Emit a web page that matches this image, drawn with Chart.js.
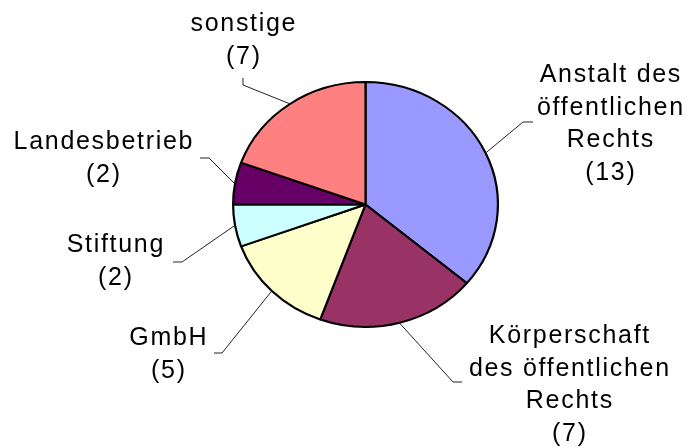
<!DOCTYPE html>
<html>
<head>
<meta charset="utf-8">
<script src="https://cdn.jsdelivr.net/npm/chart.js@4"></script>
<style>
  html, body { margin: 0; background: #fff; }
</style>
</head>
<body>
<canvas id="chart" width="687" height="448"></canvas>
<script>
const categories = [
  ["Anstalt des", "öffentlichen", "Rechts"],
  ["Körperschaft", "des öffentlichen", "Rechts"],
  ["GmbH"],
  ["Stiftung"],
  ["Landesbetrieb"],
  ["sonstige"],
];
const counts = [13, 7, 5, 2, 2, 7];
const sliceColors = ["#9999FF", "#993366", "#FFFFCC", "#CCFFFF", "#660066", "#FF8080"];

// where each label sits: text centre x, first baseline y, leader elbow and end
const labelLayout = [
  { x: 610, y: 82, elbow: [523, 122], end: [533, 122] },
  { x: 569, y: 343, elbow: [453, 382], end: [462, 382] },
  { x: 168, y: 345, elbow: [222, 353], end: [214, 353] },
  { x: 115, y: 252, elbow: [182, 262], end: [173, 262] },
  { x: 103, y: 149, elbow: [209, 158], end: [200, 158] },
  { x: 243, y: 31, elbow: [243, 85], end: [243, 78] },
];

const squash = 0.9245; // the original pie is a bit flatter than a circle
const lineHeight = 32.5;

const squashPlugin = {
  id: "squash",
  beforeDatasetsDraw(chart) {
    const arc = chart.getDatasetMeta(0).data[0];
    const ctx = chart.ctx;
    ctx.save();
    ctx.translate(arc.x, arc.y);
    ctx.scale(1, squash);
    ctx.translate(-arc.x, -arc.y);
  },
  afterDatasetsDraw(chart) {
    chart.ctx.restore();
  },
};

const labelPlugin = {
  id: "labels",
  afterDraw(chart) {
    const ctx = chart.ctx;
    const arcs = chart.getDatasetMeta(0).data;
    ctx.save();
    arcs.forEach((arc, i) => {
      const layout = labelLayout[i];
      const mid = (arc.startAngle + arc.endAngle) / 2;
      const r = arc.outerRadius + 1;
      const px = arc.x + Math.cos(mid) * r;
      const py = arc.y + Math.sin(mid) * r * squash;

      ctx.strokeStyle = "#222";
      ctx.lineWidth = 1;
      ctx.beginPath();
      ctx.moveTo(px, py);
      ctx.lineTo(layout.elbow[0], layout.elbow[1]);
      ctx.lineTo(layout.end[0], layout.end[1]);
      ctx.stroke();

      const lines = [...categories[i], "(" + counts[i] + ")"];
      ctx.fillStyle = "#000";
      ctx.font = '25px "Liberation Sans", Arial, sans-serif';
      ctx.letterSpacing = "1.7px";
      ctx.textAlign = "center";
      ctx.textBaseline = "alphabetic";
      lines.forEach((line, j) => {
        ctx.fillText(line, layout.x + 0.85, layout.y + j * lineHeight);
      });
    });
    ctx.restore();
  },
};

new Chart(document.getElementById("chart"), {
  type: "pie",
  data: {
    labels: categories.map((c) => c.join(" ")),
    datasets: [
      {
        data: counts,
        backgroundColor: sliceColors,
        borderColor: "#000",
        borderWidth: 2.2,
        hoverBorderWidth: 2.2,
      },
    ],
  },
  options: {
    responsive: false,
    animation: false,
    events: [],
    layout: {
      padding: { left: 232, right: 188, top: 71, bottom: 110 },
    },
    plugins: {
      legend: { display: false },
      tooltip: { enabled: false },
    },
  },
  plugins: [squashPlugin, labelPlugin],
});
</script>
</body>
</html>
